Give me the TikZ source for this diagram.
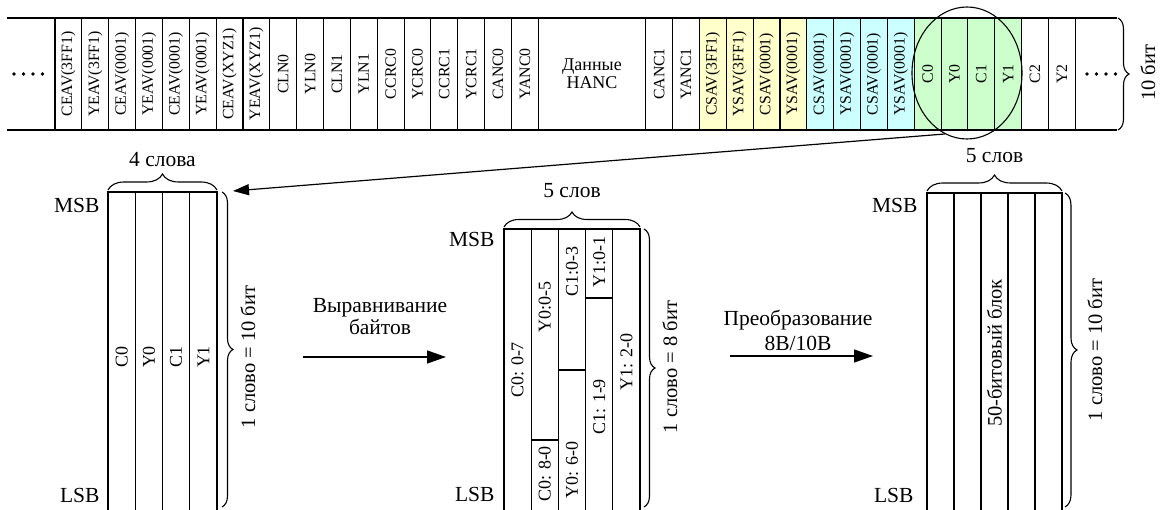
\documentclass[tikz,border=0pt]{standalone}
\usepackage{fontspec}
\setmainfont{Liberation Serif}
\usetikzlibrary{shapes.geometric,arrows.meta,decorations.pathreplacing}
\definecolor{cyel}{RGB}{255,255,204}
\definecolor{ccya}{RGB}{204,255,255}
\definecolor{cgrn}{RGB}{204,255,204}
\begin{document}
\begin{tikzpicture}[x=1pt,y=-1pt,line width=1.1pt,line join=miter,
  cell/.style={draw, rotate=90, minimum width=112pt, minimum height=26.85pt, inner sep=0pt, font=\fontsize{15.8}{17}\selectfont},
  big/.style={font=\fontsize{21.5}{23}\selectfont, inner sep=0pt},
  collbl/.style={font=\fontsize{18}{20}\selectfont, rotate=90, inner sep=0pt},
  sidelbl/.style={font=\fontsize{20.5}{22}\selectfont, rotate=90, inner sep=0pt},
  bracedeco/.style={decorate, decoration={brace, amplitude=#1}},
  dotc/.style={fill, circle, inner sep=0pt, minimum size=3.8pt},
  bigarrow/.style={line width=1.3pt, -{Triangle[length=19pt,width=13pt]}},
  ]
\useasboundingbox (0,0) rectangle (1163,510);
% ---------- top strip ----------
\foreach \i/\t/\c in {0/CEAV(3FF1)/white,1/YEAV(3FF1)/white,2/CEAV(0001)/white,3/YEAV(0001)/white,
  4/CEAV(0001)/white,5/YEAV(0001)/white,6/CEAV(XYZ1)/white,7/YEAV(XYZ1)/white,
  8/CLN0/white,9/YLN0/white,10/CLN1/white,11/YLN1/white,12/CCRC0/white,13/YCRC0/white,
  14/CCRC1/white,15/YCRC1/white,16/CANC0/white,17/YANC0/white,
  22/CANC1/white,23/YANC1/white,24/CSAV(3FF1)/cyel,25/YSAV(3FF1)/cyel,26/CSAV(0001)/cyel,27/YSAV(0001)/cyel,
  28/CSAV(0001)/ccya,29/YSAV(0001)/ccya,30/CSAV(0001)/ccya,31/YSAV(0001)/ccya,
  32/C0/cgrn,33/Y0/cgrn,34/C1/cgrn,35/Y1/cgrn,36/C2/white,37/Y2/white}
  \node[cell, fill=\c] (cell\i) at ({55+(\i+0.5)*26.85},74) {\t};
\node[draw, minimum width=107.4pt, minimum height=112pt, inner sep=0pt, align=center,
  font=\fontsize{18}{18}\selectfont] (hanc) at ({55+20*26.85},74) {Данные\\HANC};
\draw (7,18) -- (1117,18);
\draw (7,130) -- (1117,130);
\foreach \j/\x in {1/14,2/23.5,3/33,4/42.5} \node[dotc] (ld\j) at (\x,74) {};
\foreach \j/\x in {1/1087,2/1096.5,3/1106,4/1115.5} \node[dotc] (rd\j) at (\x,74) {};
\draw[bracedeco=11pt] (1118,18) -- (1118,130);
\node[sidelbl] (tenbit) at (1148,73) {10 бит};
\node[draw, ellipse, minimum width=110pt, minimum height=132pt, inner sep=0pt] (ell) at (967,73) {};
% ---------- block 1 ----------
\draw (108,510) -- (108,192) -- (217,192) -- (217,510);
\foreach \k in {1,2,3} \draw ({108+\k*27.25},192) -- ({108+\k*27.25},510);
\coordinate (b1in) at (233,191);
\draw[line width=1.2pt, -{Triangle[length=16pt,width=11pt]}] (ell.250) -- (b1in);
\draw[bracedeco=16pt] (108,190) -- (217,190);
\node[big, anchor=base] (w4) at (162.5,167) {4 слова};
\draw[bracedeco=11pt] (222,192) -- (222,507);
\node[sidelbl] (s1) at (248,357) {1 слово = 10 бит};
\node[big, anchor=base east] (msb1) at (100,213) {MSB};
\node[big, anchor=base east] (lsb1) at (100,503) {LSB};
\foreach \k/\t in {0/C0,1/Y0,2/C1,3/Y1}
  \node[collbl] (b1l\k) at ({108+(\k+0.5)*27.25},357) {\t};
% ---------- arrow 1 ----------
\coordinate (a1s) at (303,357);
\coordinate (a1e) at (446,357);
\draw[bigarrow] (a1s) -- (a1e);
\node[big, anchor=base] (t1a) at (380,313) {Выравнивание};
\node[big, anchor=base] (t1b) at (380,335) {байтов};
% ---------- block 2 ----------
\draw (504,510) -- (504,229) -- (640,229) -- (640,510);
\foreach \k in {1,2,3,4} \draw ({504+\k*27.2},229) -- ({504+\k*27.2},510);
\draw (531.2,440) -- (558.4,440);
\draw (558.4,370) -- (585.6,370);
\draw (585.6,298) -- (612.8,298);
\node[collbl] (c07) at (517.6,370) {C0: 0-7};
\node[collbl] (y005) at (544.8,307) {Y0:0-5};
\node[collbl] (c080) at (544.8,474) {C0: 8-0};
\node[collbl] (c103) at (572,272) {C1:0-3};
\node[collbl] (y060) at (572,470) {Y0: 6-0};
\node[collbl] (y101) at (599.2,262) {Y1:0-1};
\node[collbl] (c119) at (599.2,407) {C1: 1-9};
\node[collbl] (y120) at (626.4,362) {Y1: 2-0};
\draw[bracedeco=15pt] (504,227) -- (640,227);
\node[big, anchor=base] (w5a) at (572,198) {5 слов};
\draw[bracedeco=11pt] (644,229) -- (644,507);
\node[sidelbl] (s2) at (670,367) {1 слово = 8 бит};
\node[big, anchor=base east] (msb2) at (495,247) {MSB};
\node[big, anchor=base east] (lsb2) at (495,502) {LSB};
% ---------- arrow 2 ----------
\coordinate (a2s) at (730,356);
\coordinate (a2e) at (873,356);
\draw[bigarrow] (a2s) -- (a2e);
\node[big, anchor=base] (t2a) at (798,326) {Преобразование};
\node[big, anchor=base] (t2b) at (798,351) {8B/10B};
% ---------- block 3 ----------
\draw (927,510) -- (927,193) -- (1062,193) -- (1062,510);
\foreach \k in {1,2,3,4} \draw ({927+\k*27},193) -- ({927+\k*27},510);
\node[sidelbl] (blk50) at (994.5,353) {50-битовый блок};
\draw[bracedeco=16pt] (927,191) -- (1062,191);
\node[big, anchor=base] (w5b) at (994.5,163) {5 слов};
\draw[bracedeco=12pt] (1065,193) -- (1065,507);
\node[sidelbl] (s3) at (1095,350) {1 слово = 10 бит};
\node[big, anchor=base east] (msb3) at (918,213) {MSB};
\node[big, anchor=base east] (lsb3) at (914,503) {LSB};
\end{tikzpicture}
\end{document}
